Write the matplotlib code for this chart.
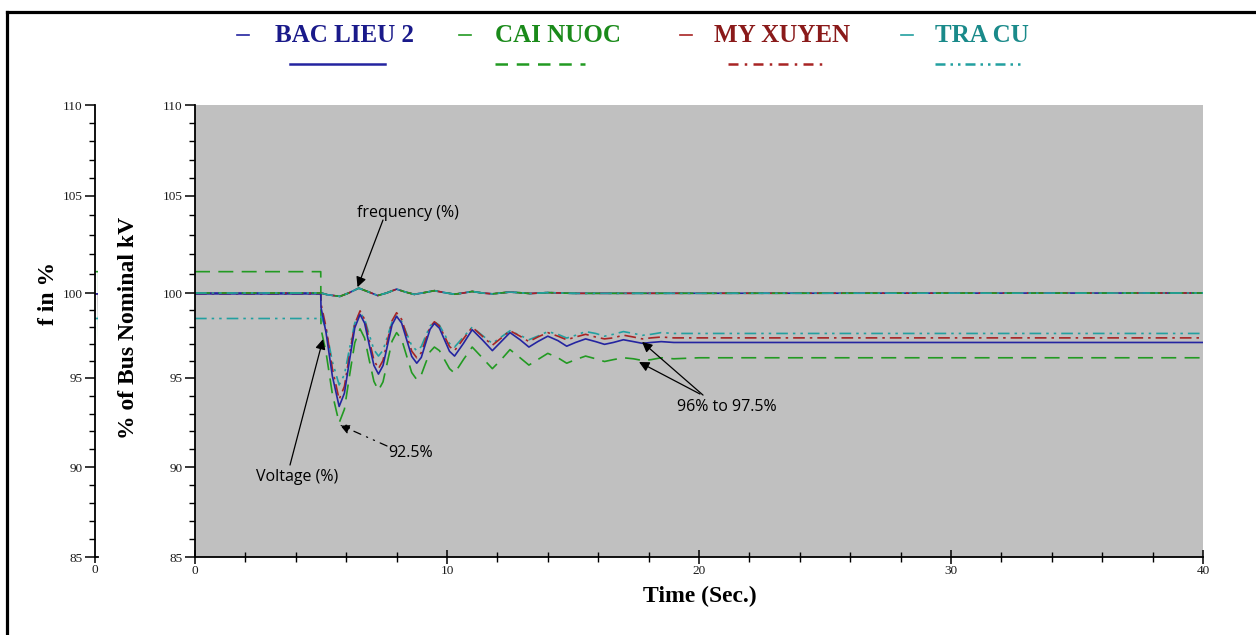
import matplotlib
matplotlib.use('Agg')
import matplotlib.pyplot as plt
import numpy as np
from matplotlib.lines import Line2D
from matplotlib.ticker import MultipleLocator, FixedLocator

plt.rcParams['font.family'] = ['Liberation Serif', 'DejaVu Serif']

# ---- data ----
stations = ['BAC LIEU 2', 'CAI NUOC', 'MY XUYEN', 'TRA CU']

t_volt = [0, 4.99, 5.0, 5.2, 5.45, 5.72, 5.93, 6.13, 6.34, 6.55, 6.73, 6.91, 7.1, 7.28,
          7.46, 7.64, 7.82, 8.0, 8.2, 8.4, 8.6, 8.8, 8.98, 9.15, 9.33, 9.5, 9.7, 9.9,
          10.1, 10.3, 10.65, 11.0, 11.4, 11.8, 12.15, 12.5, 12.9, 13.25, 13.6, 14.0,
          14.4, 14.75, 15.1, 15.5, 15.9, 16.25, 16.6, 17.0, 17.4, 17.75, 18.1, 18.5,
          19.0, 20.0, 40.0]

v_bac_lieu = [99.95, 99.95, 99.15, 97.67, 95.12, 93.4, 94.15, 96.03, 97.95, 98.74,
              98.23, 96.98, 95.74, 95.23, 95.73, 96.93, 98.13, 98.63,
              98.23, 97.25, 96.27, 95.87, 96.21, 97.03, 97.87, 98.21,
              97.93, 97.25, 96.57, 96.29, 97.03, 97.84, 97.25, 96.61,
              97.14, 97.67, 97.25, 96.82, 97.14, 97.46, 97.2, 96.87,
              97.09, 97.3, 97.14, 96.98, 97.09, 97.25, 97.14, 97.04,
              97.09, 97.14, 97.09, 97.09, 97.09]
v_cai_nuoc = [101.1, 101.1, 97.89, 96.5, 94.11, 92.48, 93.25, 95.12, 97.07, 97.89,
              97.35, 96.08, 94.81, 94.31, 94.78, 95.97, 97.17, 97.67,
              97.27, 96.29, 95.32, 94.91, 95.19, 95.87, 96.55, 96.82,
              96.61, 96.08, 95.55, 95.28, 96.08, 96.82, 96.19, 95.55,
              96.08, 96.67, 96.19, 95.76, 96.08, 96.45, 96.19, 95.87,
              96.08, 96.29, 96.13, 95.97, 96.08, 96.19, 96.13, 96.03,
              96.08, 96.19, 96.13, 96.19, 96.19]
v_my_xuyen = [99.95, 99.95, 99.37, 97.99, 95.55, 93.8, 94.53, 96.35, 98.18, 98.95,
              98.45, 97.25, 96.05, 95.55, 96.03, 97.2, 98.37, 98.84,
              98.45, 97.51, 96.58, 96.19, 96.49, 97.25, 98.0, 98.31,
              98.06, 97.46, 96.85, 96.61, 97.3, 97.99, 97.46, 96.93,
              97.35, 97.78, 97.46, 97.14, 97.41, 97.67, 97.46, 97.25,
              97.41, 97.57, 97.41, 97.3, 97.36, 97.52, 97.41, 97.3,
              97.36, 97.41, 97.36, 97.36, 97.36]
v_tra_cu = [98.5, 98.5, 98.63, 97.89, 95.97, 94.61, 95.21, 96.72, 98.23, 98.84,
            98.47, 97.57, 96.66, 96.29, 96.63, 97.46, 98.29, 98.63,
            98.33, 97.62, 96.9, 96.61, 96.85, 97.46, 98.06, 98.31,
            98.1, 97.57, 97.03, 96.82, 97.41, 97.99, 97.51, 97.03,
            97.41, 97.78, 97.51, 97.25, 97.46, 97.73, 97.57, 97.35,
            97.51, 97.73, 97.62, 97.46, 97.57, 97.73, 97.62, 97.51,
            97.57, 97.67, 97.62, 97.62, 97.62]

t_freq = [0, 5.0, 5.25, 5.75, 6.1, 6.5, 6.9, 7.25, 7.6, 8.0, 8.35, 8.7, 9.1, 9.5,
          9.9, 10.3, 10.65, 11.0, 11.4, 11.8, 12.5, 13.3, 14.0, 15.0, 40.0]
freq = [100.0, 100.0, 99.9, 99.8, 100.0, 100.25, 100.05, 99.85, 100.0, 100.2,
        100.05, 99.92, 100.02, 100.12, 100.02, 99.93, 100.0, 100.08, 100.0, 99.95,
        100.05, 99.97, 100.02, 99.98, 100.0]

volts = [v_bac_lieu, v_cai_nuoc, v_my_xuyen, v_tra_cu]

# the y axis of the original is not evenly spaced, follow its tick marks
y_ticks = [85, 90, 95, 100, 105, 110]
y_tick_pos = [-557, -467, -378, -293, -196, -105]


def y_fwd(v):
    return np.interp(v, y_ticks, y_tick_pos)


def y_inv(p):
    return np.interp(p, y_tick_pos, y_ticks)


# ---- styles ----
line_colors = ['#2424a0', '#229a22', '#a82424', '#22a0a0']
text_colors = ['#1a1a8a', '#1a8a1a', '#8a1a1a', '#1a8a8a']
styles = ['-', (0, (9, 5)), (0, (7, 3, 1.5, 3)), (0, (7, 3, 1.5, 3, 1.5, 3))]
legend_styles = ['-', (0, (5, 3.5)), (0, (4, 2.5, 1, 2.5)), (0, (4, 2, 1, 2, 1, 2))]

W, H = 1256, 635
fig = plt.figure(figsize=(W / 100, H / 100), dpi=100)


def fx(px):
    return px / W


def fy(py):
    return 1 - py / H


def style_yaxis(a):
    a.set_yscale('function', functions=(y_fwd, y_inv))
    a.set_ylim(85, 110)
    a.yaxis.set_major_locator(FixedLocator(y_ticks))
    a.yaxis.set_minor_locator(FixedLocator(list(range(85, 111))))
    a.tick_params(axis='y', which='major', direction='out', length=7, width=1.1,
                  labelsize=9.5, labelcolor='#1a1a1a', pad=2)
    a.tick_params(axis='y', which='minor', direction='out', length=4, width=1)
    for s in ['top', 'right']:
        a.spines[s].set_visible(False)
    for s in ['left', 'bottom']:
        a.spines[s].set_linewidth(1.3)


ax = fig.add_axes([fx(195), fy(557), fx(1203) - fx(195), fy(105) - fy(557)])
ax.set_facecolor('#c0c0c0')

# voltages (draw order: green, teal, red, blue)
for i in [1, 3, 2, 0]:
    ax.plot(t_volt, volts[i], color=line_colors[i], linestyle=styles[i], lw=1.2)
# frequencies
for i in [0, 2, 1, 3]:
    ax.plot(t_freq, freq, color=line_colors[i], linestyle=styles[i], lw=1.2)

ax.set_xlim(0, 40)
style_yaxis(ax)
ax.xaxis.set_major_locator(MultipleLocator(10))
ax.xaxis.set_minor_locator(MultipleLocator(2))
ax.tick_params(axis='x', which='major', direction='inout', length=10, width=1.1,
               labelsize=9.5, labelcolor='#1a1a1a', pad=1)
ax.tick_params(axis='x', which='minor', direction='inout', length=7, width=1)

# left frequency axis
axf = fig.add_axes([fx(95), fy(557), fx(3), fy(105) - fy(557)])
axf.set_facecolor('none')
for i in [1, 3, 2, 0]:
    axf.plot(t_volt, volts[i], color=line_colors[i], linestyle='-', lw=1.2)
axf.set_xlim(0, 4)
axf.set_xticks([0])
style_yaxis(axf)
axf.tick_params(axis='x', which='major', direction='out', length=4, width=1.1,
                labelsize=9.5, labelcolor='#1a1a1a', pad=1)

# axis labels
fig.text(fx(48), fy(293), 'f in %', rotation=90, ha='center', va='center',
         fontsize=17, fontweight='bold')
fig.text(fx(128), fy(328), '% of Bus Nominal kV', rotation=90, ha='center',
         va='center', fontsize=17, fontweight='bold')
fig.text(fx(700), fy(596), 'Time (Sec.)', ha='center', va='center',
         fontsize=17, fontweight='bold')

# legend drawn on top of the figure
dash_x = [243, 465, 686, 907]
text_x = [275, 495, 714, 935]
sample_x = [(290, 385), (495, 585), (728, 828), (935, 1025)]
for i, name in enumerate(stations):
    fig.add_artist(Line2D([fx(dash_x[i] - 6), fx(dash_x[i] + 6)], [fy(35), fy(35)],
                          color=line_colors[i], lw=1.2))
    fig.text(fx(text_x[i]), fy(36), name, ha='left', va='center', fontsize=18,
             fontweight='bold', color=text_colors[i])
    fig.add_artist(Line2D([fx(sample_x[i][0]), fx(sample_x[i][1])], [fy(64), fy(64)],
                          color=line_colors[i], linestyle=legend_styles[i], lw=1.8))

# annotations
ann_font = dict(fontsize=11.5, family=['Open Sans', 'DejaVu Sans'], color='black')
arrow = dict(arrowstyle='-|>', color='black', lw=0.9, mutation_scale=15,
             shrinkA=0, shrinkB=0)
ax.text(8.45, 104.12, 'frequency (%)', ha='center', va='center', **ann_font)
ax.annotate('', xy=(6.45, 100.3), xytext=(7.46, 103.76), arrowprops=arrow)
ax.text(4.05, 89.44, 'Voltage (%)', ha='center', va='center', **ann_font)
ax.annotate('', xy=(5.08, 97.29), xytext=(3.77, 90.11), arrowprops=arrow)
ax.text(8.55, 90.79, '92.5%', ha='center', va='center', **ann_font)
ax.annotate('', xy=(5.75, 92.36), xytext=(7.62, 91.18),
            arrowprops=dict(arrow, linestyle=(0, (6, 5, 1, 5, 1, 5))))
ax.text(21.1, 93.37, '96% to 97.5%', ha='center', va='center', **ann_font)
ax.annotate('', xy=(17.74, 97.12), xytext=(20.16, 94.04), arrowprops=arrow)
ax.annotate('', xy=(17.62, 95.94), xytext=(20.04, 94.1), arrowprops=arrow)

# outer frame (top and left edges)
fig.add_artist(Line2D([fx(7), fx(7)], [fy(12), 0], color='black', lw=2.3))
fig.add_artist(Line2D([fx(7), 1], [fy(12), fy(12)], color='black', lw=2.3))

plt.savefig('out.png', dpi=100)
